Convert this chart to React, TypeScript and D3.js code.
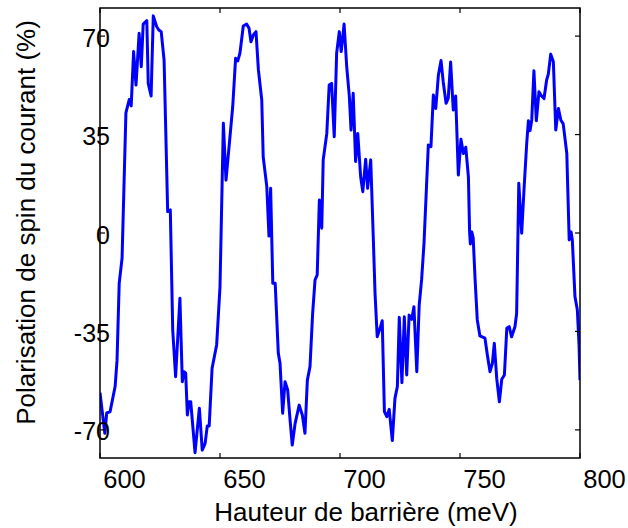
import React from "react";
import * as d3 from "d3";

// Barrier height (meV)
const energy = [
  600.0, 602.0, 602.8, 604.2, 606.3, 607.1, 608.0, 609.2, 610.8, 612.2,
  613.0, 614.0, 615.0, 616.3, 617.2, 618.0, 619.5, 620.1, 621.3, 622.2,
  623.6, 624.5, 625.5, 626.7, 628.2, 629.3, 630.3, 631.5, 633.3, 634.3,
  635.0, 635.7, 636.4, 637.1, 637.8, 639.6, 641.4, 642.6, 643.8, 644.7,
  645.5, 646.7, 648.6, 650.0, 651.4, 652.5, 653.9, 655.3, 656.5, 657.4,
  658.3, 659.7, 661.1, 662.1, 662.9, 663.9, 665.0, 666.0, 667.4, 668.0,
  669.5, 670.4, 671.1, 672.0, 673.0, 674.3, 675.0, 676.1, 677.1, 678.2,
  679.2, 680.1, 681.3, 683.0, 684.3, 685.4, 686.4, 687.5, 688.6, 689.6,
  690.5, 691.4, 692.4, 693.0, 694.5, 695.5, 696.5, 697.6, 698.6, 699.7,
  700.5, 701.7, 702.8, 703.9, 704.6, 705.5, 706.5, 707.4, 708.6, 709.5,
  710.7, 711.5, 712.8, 713.9, 714.6, 715.5, 716.7, 717.6, 718.5, 719.5,
  720.5, 721.8, 722.9, 723.9, 724.7, 725.8, 726.8, 727.8, 728.8, 729.9,
  730.8, 732.0, 733.0, 734.0, 735.0, 736.8, 737.9, 738.9, 739.9, 741.0,
  742.1, 743.0, 744.2, 745.1, 746.1, 747.2, 748.2, 749.3, 750.4, 751.4,
  752.4, 753.5, 754.0, 754.3, 754.9, 755.5, 756.3, 757.2, 758.3, 760.4,
  761.4, 762.5, 763.5, 764.3, 765.3, 766.4, 767.4, 768.5, 769.5, 770.5,
  771.5, 772.9, 773.6, 774.5, 775.7, 776.7, 777.8, 778.5, 779.2, 779.9,
  780.8, 781.8, 782.9, 784.0, 785.0, 786.1, 786.8, 787.8, 788.9, 789.9,
  791.0, 792.0, 793.0, 794.5, 795.5, 796.3, 796.8, 797.9, 798.9, 799.6,
  800.0,
];

// Current spin polarization (%)
const polarization = [
  -56.8, -71.2, -64.0, -63.5, -54.6, -45.2, -17.9, -8.9, 42.7, 47.5,
  45.2, 64.5, 52.6, 71.0, 59.1, 74.3, 75.5, 53.2, 48.7, 77.2,
  73.4, 72.2, 71.6, 61.5, 7.6, 8.2, -34.5, -51.1, -23.2, -52.9,
  -49.3, -49.8, -64.7, -60.0, -60.0, -78.1, -62.3, -77.2, -74.8, -68.6,
  -68.6, -48.1, -39.8, -19.1, 39.0, 18.8, 31.9, 44.9, 62.1, 61.2,
  63.9, 73.6, 74.3, 72.8, 68.0, 70.4, 71.6, 58.0, 47.3, 27.1,
  16.5, -1.1, 15.9, -17.9, -17.9, -42.8, -46.2, -64.1, -52.9, -55.8,
  -66.5, -75.4, -67.7, -61.2, -64.7, -71.2, -52.3, -47.5, -28.6, -16.7,
  -14.9, 11.7, 1.7, 26.0, 35.4, 52.6, 53.2, 34.2, 63.9, 71.6,
  64.5, 74.3, 59.1, 48.5, 36.6, 49.7, 25.4, 35.4, 20.0, 14.7,
  26.2, 15.9, 26.0, -2.5, -21.4, -36.9, -33.9, -31.2, -63.5, -65.3,
  -62.7, -73.8, -58.8, -54.6, -30.0, -53.2, -29.8, -50.5, -29.2, -30.7,
  -26.2, -49.3, -25.6, -16.7, -3.7, 31.3, 30.7, 49.1, 44.3, 56.2,
  61.3, 53.8, 46.1, 47.9, 60.8, 43.7, 48.7, 20.6, 33.3, 28.3,
  30.5, 20.0, 0.4, -3.9, 0.4, -1.8, -16.7, -30.9, -36.6, -37.4,
  -43.4, -49.3, -46.3, -39.2, -51.7, -60.0, -52.0, -50.5, -33.9, -33.3,
  -36.9, -33.3, -28.6, 17.7, -0.1, 15.9, 31.9, 39.9, 36.4, 40.2,
  57.7, 39.9, 50.2, 48.7, 47.8, 54.4, 56.5, 63.6, 60.9, 36.6,
  44.3, 40.2, 38.8, 28.3, -2.5, 0.4, -2.5, -22.6, -27.4, -39.8,
  -52.3,
];

const xTicks = [600, 650, 700, 750, 800];
const yTicks = [-70, -35, 0, 35, 70];
const xTitle = "Hauteur de barrière (meV)";
const yTitle = "Polarisation de spin du courant (%)";

const FONT = "Arial, 'Liberation Sans', sans-serif";

export default function App() {
  const W = 628;
  const H = 528;
  const left = 100;
  const right = 580;
  const top = 8;
  const bottom = 458;
  const tickLen = 5;

  const x = d3.scaleLinear().domain([600, 800]).range([left, right]);
  const y = d3.scaleLinear().domain([-80, 80]).range([bottom, top]);

  const data: [number, number][] = energy.map((e, i) => [e, polarization[i]]);
  const line = d3
    .line<[number, number]>()
    .x((d) => x(d[0]))
    .y((d) => y(d[1]));

  const axisColor = "#000";

  return (
    <svg
      width={W}
      height={H}
      viewBox={`0 0 ${W} ${H}`}
      style={{ position: "absolute", left: 0, top: 0, background: "#fff" }}
    >
      <rect x={0} y={0} width={W} height={H} fill="#fff" />
      <defs>
        <clipPath id="plot-clip">
          <rect x={left} y={top} width={right - left} height={bottom - top} />
        </clipPath>
      </defs>

      {/* data line */}
      <path
        d={line(data) || ""}
        fill="none"
        stroke="#0000ff"
        strokeWidth={3}
        strokeLinejoin="round"
        clipPath="url(#plot-clip)"
      />

      {/* box */}
      <rect
        x={left}
        y={top}
        width={right - left}
        height={bottom - top}
        fill="none"
        stroke={axisColor}
        strokeWidth={1.5}
      />

      {/* x ticks */}
      {xTicks.map((v) => (
        <g key={"xt" + v}>
          <line x1={x(v)} x2={x(v)} y1={bottom} y2={bottom - tickLen} stroke={axisColor} strokeWidth={1.2} />
          <line x1={x(v)} x2={x(v)} y1={top} y2={top + tickLen} stroke={axisColor} strokeWidth={1.2} />
          <text
            x={x(v) + 24.5}
            y={488}
            textAnchor="middle"
            fontFamily={FONT}
            fontSize={25.5}
            fill="#000"
          >
            {v}
          </text>
        </g>
      ))}

      {/* y ticks */}
      {yTicks.map((v) => (
        <g key={"yt" + v}>
          <line x1={left} x2={left + tickLen} y1={y(v)} y2={y(v)} stroke={axisColor} strokeWidth={1.2} />
          <line x1={right} x2={right - tickLen} y1={y(v)} y2={y(v)} stroke={axisColor} strokeWidth={1.2} />
          <text
            x={110}
            y={y(v) + 10.5}
            textAnchor="end"
            fontFamily={FONT}
            fontSize={25}
            fill="#000"
          >
            {v}
          </text>
        </g>
      ))}

      {/* axis titles */}
      <text
        x={(left + right) / 2 + 26}
        y={521}
        textAnchor="middle"
        fontFamily={FONT}
        fontSize={26}
        fill="#000"
      >
        {xTitle}
      </text>
      <text
        transform={`translate(35, ${(top + bottom) / 2 - 10.5}) rotate(-90)`}
        textAnchor="middle"
        fontFamily={FONT}
        fontSize={26}
        fill="#000"
      >
        {yTitle}
      </text>
    </svg>
  );
}
